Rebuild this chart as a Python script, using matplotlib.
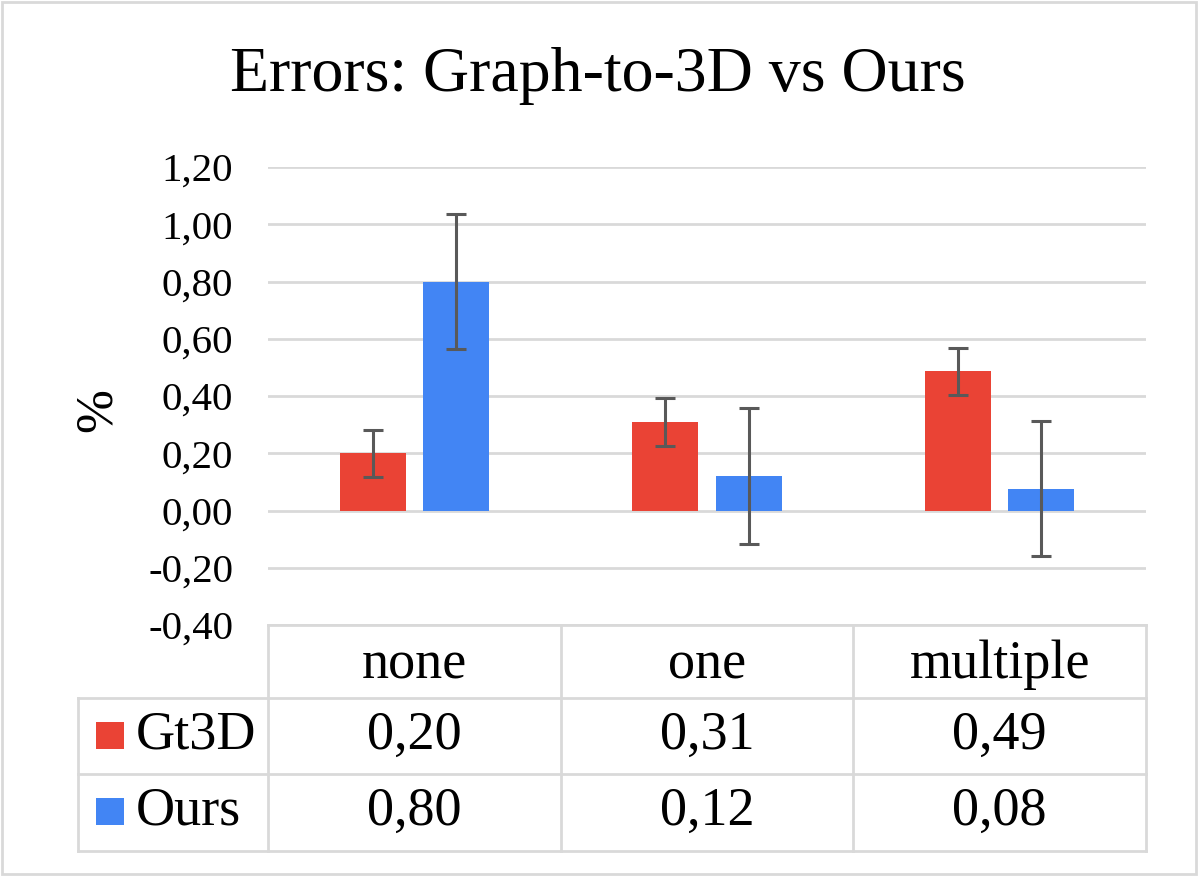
import matplotlib
matplotlib.use("Agg")
import matplotlib.pyplot as plt
from matplotlib.patches import Rectangle
from matplotlib.lines import Line2D
import numpy as np

categories = ["none", "one", "multiple"]
series_names = ["Gt3D", "Ours"]
gt3d_values = [0.20, 0.31, 0.486]
ours_values = [0.80, 0.12, 0.076]
gt3d_err = [0.082, 0.083, 0.082]
ours_err = [0.235, 0.237, 0.235]
yticks = [-0.40, -0.20, 0.00, 0.20, 0.40, 0.60, 0.80, 1.00, 1.20]
title = "Errors: Graph-to-3D vs Ours"
ylabel = "%"

RED = "#EA4335"
BLUE = "#4285F4"
GRID = "#D9D9D9"
ERRC = "#595959"
FONT = "Liberation Serif"
TFS = 39

W, H = 1198, 876
fig = plt.figure(figsize=(W / 100, H / 100), dpi=100)
plt.rcParams["font.family"] = [FONT, "DejaVu Serif"]

# overlay in pixel coordinates for table and border
ov = fig.add_axes([0, 0, 1, 1])
ov.set_xlim(0, W)
ov.set_ylim(H, 0)
ov.axis("off")

L, R, T, B = 268, 1146, 167, 625
ax = fig.add_axes([L / W, 1 - B / H, (R - L) / W, (B - T) / H])
ax.set_ylim(-0.4, 1.2)
ax.set_xlim(-0.5, 2.5)
ax.set_yticks(yticks)
ax.set_yticklabels([f"{v:.2f}".replace(".", ",") for v in yticks], fontsize=29.5)
ax.tick_params(axis="y", length=0, pad=25)
ax.set_xticks([])
for s in ax.spines.values():
    s.set_visible(False)
ax.yaxis.grid(True, color=GRID, lw=2)
ax.set_axisbelow(True)
ax.patch.set_alpha(0)

x = np.arange(len(categories))
bw = 0.225
off = 0.1426
ax.bar(x - off, gt3d_values, bw, color=RED, zorder=2)
ax.bar(x + off, ours_values, bw, color=BLUE, zorder=2)
ekw = dict(fmt="none", ecolor=ERRC, elinewidth=2.2, capsize=7.2, capthick=2.2, zorder=3)
ax.errorbar(x - off, gt3d_values, yerr=gt3d_err, **ekw)
ax.errorbar(x + off, ours_values, yerr=ours_err, **ekw)

fig.text(598 / W, 1 - 76 / H, title, ha="center", va="center", fontsize=46)
fig.text(98 / W, 1 - 410 / H, ylabel, ha="center", va="center", rotation=90, fontsize=38)

# outer border
ov.add_patch(Rectangle((2, 2), W - 4, H - 4, fill=False, ec=GRID, lw=2))

# data table
col_edges = [L + i * (R - L) / 3 for i in range(4)]
row_edges = [625, 698, 774, 851]
lkw = dict(color=GRID, lw=2)
ov.add_line(Line2D([L, R], [row_edges[0]] * 2, **lkw))
ov.add_line(Line2D([78, R], [row_edges[1]] * 2, **lkw))
ov.add_line(Line2D([78, R], [row_edges[2]] * 2, **lkw))
ov.add_line(Line2D([78, R], [row_edges[3]] * 2, **lkw))
for xe in col_edges:
    ov.add_line(Line2D([xe, xe], [row_edges[0], row_edges[3]], **lkw))
ov.add_line(Line2D([78, 78], [row_edges[1], row_edges[3]], **lkw))

for i, c in enumerate(categories):
    cx = (col_edges[i] + col_edges[i + 1]) / 2
    ov.text(cx, 665, c, ha="center", va="center", fontsize=TFS)
    ov.text(cx, 736, f"{gt3d_values[i]:.2f}".replace(".", ","), ha="center", va="center", fontsize=TFS)
    ov.text(cx, 812, f"{ours_values[i]:.2f}".replace(".", ","), ha="center", va="center", fontsize=TFS)

for name, col, cy in [(series_names[0], RED, 735.5), (series_names[1], BLUE, 811.5)]:
    ov.add_patch(Rectangle((96, cy - 13.5), 28, 27, color=col, lw=0))
    ov.text(136, cy, name, ha="left", va="center", fontsize=TFS)

fig.savefig("out.png", dpi=100)
